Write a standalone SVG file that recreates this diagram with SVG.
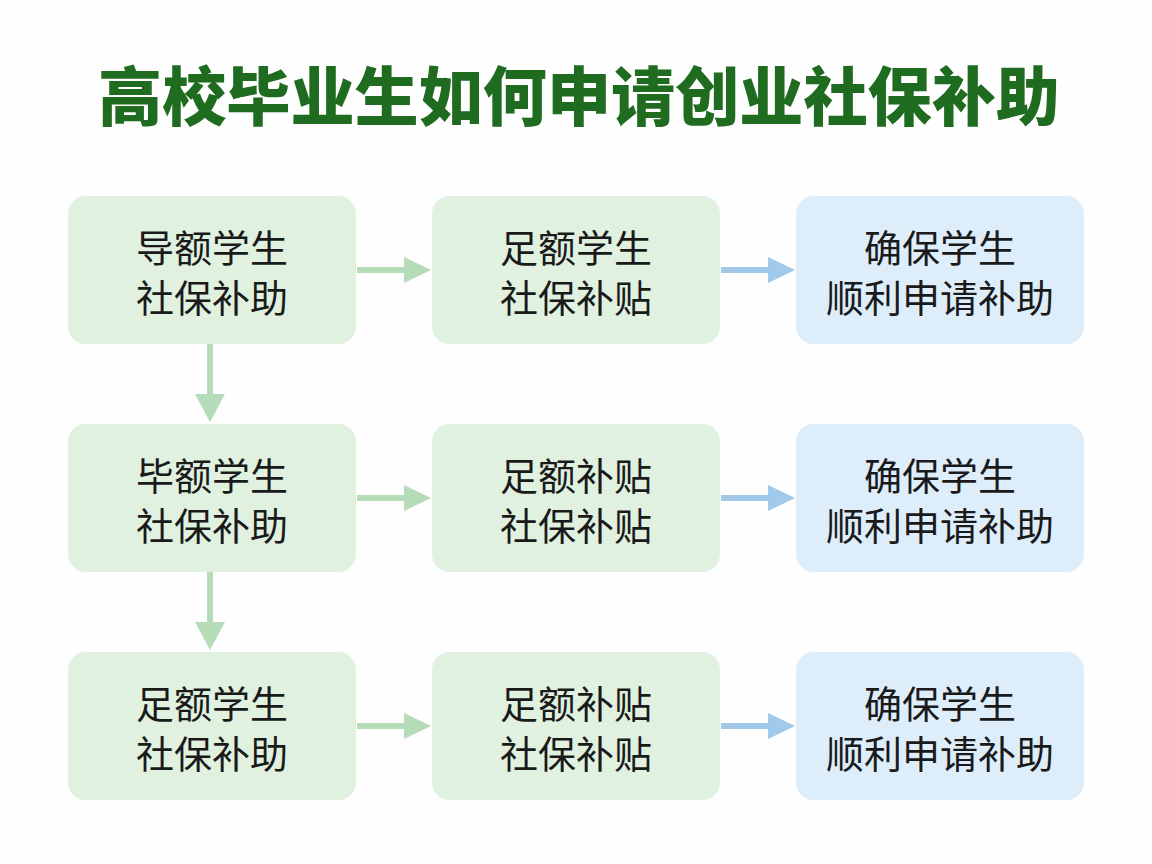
<svg xmlns="http://www.w3.org/2000/svg" width="1152" height="864" viewBox="0 0 1152 864">
<defs>
<style>
.title{font-family:"Noto Sans CJK SC","Noto Sans",sans-serif;font-weight:900;font-size:64px;fill:#1f6b1f;}
.lbl{font-family:"Noto Sans CJK SC","Noto Sans",sans-serif;font-size:38px;fill:#1a1a1a;text-anchor:middle;}
.g{fill:#e0f1e0;}
.b{fill:#ddedfa;}
.ga{stroke:#b6dbb9;stroke-width:6;fill:none;}
.ba{stroke:#a0c9ea;stroke-width:6;fill:none;}
.gh{fill:#b6dbb9;}
.bh{fill:#a0c9ea;}
</style>
</defs>
<rect width="1152" height="864" fill="#fdfefd"/>
<text class="title" x="579" y="120" text-anchor="middle" textLength="962" lengthAdjust="spacingAndGlyphs">高校毕业生如何申请创业社保补助</text>
<g id="connectors">
<line class="ga" x1="357" y1="270" x2="408" y2="270"/><polygon class="gh" points="404,257 431,270 404,283"/>
<line class="ga" x1="357" y1="498" x2="408" y2="498"/><polygon class="gh" points="404,485 431,498 404,511"/>
<line class="ga" x1="357" y1="726" x2="408" y2="726"/><polygon class="gh" points="404,713 431,726 404,739"/>
<line class="ba" x1="721" y1="270" x2="772" y2="270"/><polygon class="bh" points="768,257 795,270 768,283"/>
<line class="ba" x1="721" y1="498" x2="772" y2="498"/><polygon class="bh" points="768,485 795,498 768,511"/>
<line class="ba" x1="721" y1="726" x2="772" y2="726"/><polygon class="bh" points="768,713 795,726 768,739"/>
<line class="ga" x1="210" y1="344" x2="210" y2="398"/><polygon class="gh" points="195,394 225,394 210,422"/>
<line class="ga" x1="210" y1="572" x2="210" y2="626"/><polygon class="gh" points="195,622 225,622 210,650"/>
</g>
<g id="n11"><rect class="g" x="68" y="196" width="288" height="148" rx="18"/><text class="lbl" x="212" y="262">导额学生</text><text class="lbl" x="212" y="312">社保补助</text></g>
<g id="n12"><rect class="g" x="432" y="196" width="288" height="148" rx="18"/><text class="lbl" x="576" y="262">足额学生</text><text class="lbl" x="576" y="312">社保补贴</text></g>
<g id="n13"><rect class="b" x="796" y="196" width="288" height="148" rx="18"/><text class="lbl" x="940" y="262">确保学生</text><text class="lbl" x="940" y="312">顺利申请补助</text></g>
<g id="n21"><rect class="g" x="68" y="424" width="288" height="148" rx="18"/><text class="lbl" x="212" y="490">毕额学生</text><text class="lbl" x="212" y="540">社保补助</text></g>
<g id="n22"><rect class="g" x="432" y="424" width="288" height="148" rx="18"/><text class="lbl" x="576" y="490">足额补贴</text><text class="lbl" x="576" y="540">社保补贴</text></g>
<g id="n23"><rect class="b" x="796" y="424" width="288" height="148" rx="18"/><text class="lbl" x="940" y="490">确保学生</text><text class="lbl" x="940" y="540">顺利申请补助</text></g>
<g id="n31"><rect class="g" x="68" y="652" width="288" height="148" rx="18"/><text class="lbl" x="212" y="718">足额学生</text><text class="lbl" x="212" y="768">社保补助</text></g>
<g id="n32"><rect class="g" x="432" y="652" width="288" height="148" rx="18"/><text class="lbl" x="576" y="718">足额补贴</text><text class="lbl" x="576" y="768">社保补贴</text></g>
<g id="n33"><rect class="b" x="796" y="652" width="288" height="148" rx="18"/><text class="lbl" x="940" y="718">确保学生</text><text class="lbl" x="940" y="768">顺利申请补助</text></g>
</svg>
